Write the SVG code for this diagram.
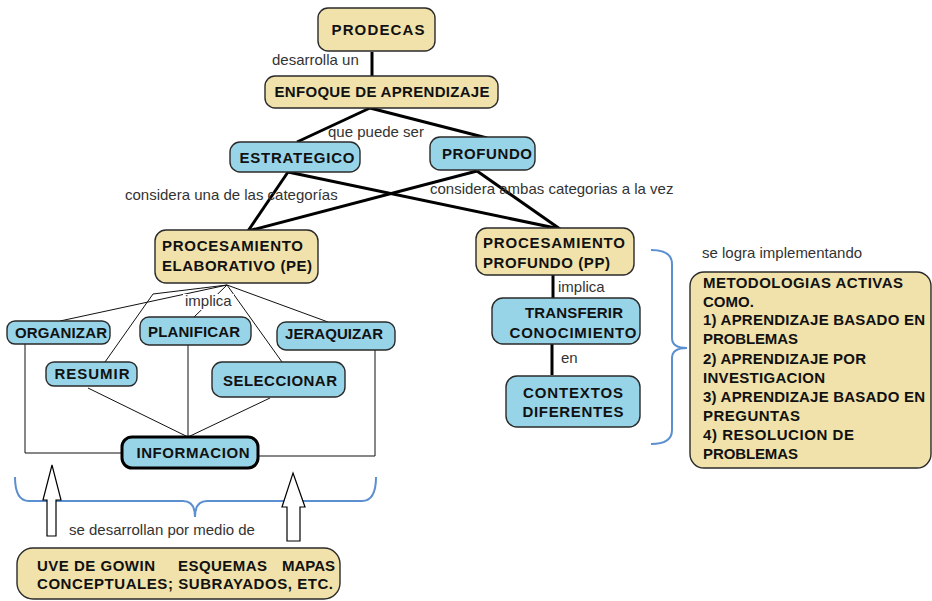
<svg xmlns="http://www.w3.org/2000/svg" width="932" height="601" viewBox="0 0 932 601">
<style>
.tan{fill:#F0E2AA;stroke:#2a2a2a;stroke-width:1.4}
.blue{fill:#98D4E8;stroke:#2a2a2a;stroke-width:1.4}
.bt{font-family:"Liberation Sans",Arial,sans-serif;font-weight:bold;font-size:15px;fill:#111}
.lb{font-family:"Liberation Sans",Arial,sans-serif;font-size:15px;fill:#333}
.thick{stroke:#000;stroke-width:3;fill:none}
.thin{stroke:#111;stroke-width:1;fill:none}
.brace{stroke:#5B8FD0;stroke-width:2;fill:none}
.hollow{fill:#fff;stroke:#000;stroke-width:1.2}
</style>
<rect width="932" height="601" fill="#fff"/>

<g id="connectors">
<line class="thick" x1="372" y1="52" x2="372" y2="77"/>
<line class="thick" x1="370" y1="108" x2="297" y2="142"/>
<line class="thick" x1="370" y1="108" x2="487" y2="138"/>
<line class="thick" x1="288" y1="172" x2="248" y2="231"/>
<line class="thick" x1="288" y1="172" x2="560" y2="229"/>
<line class="thick" x1="477" y1="171" x2="248" y2="231"/>
<line class="thick" x1="477" y1="171" x2="560" y2="229"/>
<line class="thick" x1="553" y1="275" x2="553" y2="298"/>
<line class="thick" x1="552" y1="344" x2="552" y2="375"/>
<line class="thin" x1="227" y1="285" x2="60" y2="321"/>
<polyline class="thin" points="227,285 153,294 105,362"/>
<line class="thin" x1="227" y1="285" x2="193" y2="318"/>
<line class="thin" x1="227" y1="285" x2="282" y2="362"/>
<line class="thin" x1="227" y1="285" x2="328" y2="322"/>
<polyline class="thin" points="25,344 25,453 122,453"/>
<polyline class="thin" points="375,350 375,456 258,456"/>
<line class="thin" x1="88" y1="388" x2="188" y2="437"/>
<line class="thin" x1="188" y1="345" x2="188" y2="437"/>
<line class="thin" x1="270" y1="398" x2="188" y2="437"/>
<path class="brace" d="M651,250 Q672,250 672,264 L672,338 Q672,348 687,348 Q672,348 672,358 L672,430 Q672,444 651,444"/>
<path class="brace" d="M15,477 Q15,501 29,501 L183,501 Q195,501 195,517 Q195,501 207,501 L362,501 Q376,501 376,477"/>
<polygon class="hollow" points="52,465 61,500 56,500 56,536 47,536 47,500 43,500"/>
<polygon class="hollow" points="293,473 305,507 300,507 300,541 287,541 287,507 282,507"/>
</g>

<g id="labels">
<text class="lb" x="272" y="65">desarrolla un</text>
<text class="lb" x="328" y="137">que puede ser</text>
<text class="lb" x="125" y="200">considera una de las categorías</text>
<text class="lb" x="430" y="194">considera ambas categorias a la vez</text>
<rect x="183" y="294" width="51" height="16" fill="#fff"/>
<text class="lb" x="185" y="306">implica</text>
<text class="lb" x="558" y="292">implica</text>
<text class="lb" x="561" y="363">en</text>
<text class="lb" x="702" y="258">se logra implementando</text>
<text class="lb" x="69" y="535">se desarrollan por medio de</text>
</g>

<g id="prodecas">
<rect class="tan" x="318" y="8" width="117" height="43" rx="10"/>
<text class="bt" x="378" y="35" text-anchor="middle" font-size="16" textLength="93">PRODECAS</text>
</g>
<g id="enfoque">
<rect class="tan" x="265" y="76" width="233" height="32" rx="10"/>
<text class="bt" x="382" y="97" text-anchor="middle" textLength="215">ENFOQUE DE APRENDIZAJE</text>
</g>
<g id="estrategico">
<rect class="blue" x="230" y="142" width="130" height="30" rx="10"/>
<text class="bt" x="297" y="163" text-anchor="middle" textLength="115">ESTRATEGICO</text>
</g>
<g id="profundo">
<rect class="blue" x="430" y="137" width="105" height="33" rx="10"/>
<text class="bt" x="487" y="159" text-anchor="middle" textLength="90">PROFUNDO</text>
</g>
<g id="pe">
<rect class="tan" x="155" y="230" width="163" height="53" rx="11"/>
<text class="bt" x="162" y="251" textLength="141">PROCESAMIENTO</text>
<text class="bt" x="162" y="271" textLength="150">ELABORATIVO (PE)</text>
</g>
<g id="pp">
<rect class="tan" x="476" y="228" width="158" height="47" rx="11"/>
<text class="bt" x="483" y="248" textLength="142">PROCESAMIENTO</text>
<text class="bt" x="483" y="268" textLength="127">PROFUNDO (PP)</text>
</g>
<g id="transferir">
<rect class="blue" x="492" y="298" width="148" height="46" rx="11"/>
<text class="bt" x="574" y="318" text-anchor="middle" textLength="98">TRANSFERIR</text>
<text class="bt" x="573" y="338" text-anchor="middle" textLength="127">CONOCIMIENTO</text>
</g>
<g id="contextos">
<rect class="blue" x="506" y="376" width="134" height="51" rx="11"/>
<text class="bt" x="573" y="398" text-anchor="middle" textLength="100">CONTEXTOS</text>
<text class="bt" x="573" y="417" text-anchor="middle" textLength="101">DIFERENTES</text>
</g>
<g id="organizar">
<rect class="blue" x="7" y="321" width="103" height="23" rx="8"/>
<text class="bt" x="61" y="338" text-anchor="middle" textLength="92">ORGANIZAR</text>
</g>
<g id="planificar">
<rect class="blue" x="140" y="317" width="111" height="28" rx="9"/>
<text class="bt" x="194" y="337" text-anchor="middle" textLength="92">PLANIFICAR</text>
</g>
<g id="jeraquizar">
<rect class="blue" x="277" y="322" width="118" height="28" rx="9"/>
<text class="bt" x="334" y="339" text-anchor="middle" textLength="98">JERAQUIZAR</text>
</g>
<g id="resumir">
<rect class="blue" x="46" y="362" width="91" height="24" rx="8"/>
<text class="bt" x="92" y="379" text-anchor="middle" textLength="75">RESUMIR</text>
</g>
<g id="seleccionar">
<rect class="blue" x="212" y="362" width="133" height="35" rx="10"/>
<text class="bt" x="280" y="386" text-anchor="middle" textLength="114">SELECCIONAR</text>
</g>
<g id="informacion">
<rect x="122" y="437" width="136" height="31" rx="10" fill="#98D4E8" stroke="#000" stroke-width="3"/>
<text class="bt" x="193" y="458" text-anchor="middle" textLength="113">INFORMACION</text>
</g>
<g id="metodologias">
<rect class="tan" x="690" y="272" width="241" height="196" rx="14"/>
<text class="bt" x="703" y="288" textLength="200">METODOLOGIAS ACTIVAS</text>
<text class="bt" x="703" y="307">COMO.</text>
<text class="bt" x="703" y="325" textLength="222">1) APRENDIZAJE BASADO EN</text>
<text class="bt" x="703" y="344" textLength="95">PROBLEMAS</text>
<text class="bt" x="703" y="364" textLength="163">2) APRENDIZAJE POR</text>
<text class="bt" x="703" y="383" textLength="122">INVESTIGACION</text>
<text class="bt" x="703" y="402" textLength="222">3) APRENDIZAJE BASADO EN</text>
<text class="bt" x="703" y="421" textLength="97">PREGUNTAS</text>
<text class="bt" x="703" y="440" textLength="151">4) RESOLUCION DE</text>
<text class="bt" x="703" y="459" textLength="95">PROBLEMAS</text>
</g>
<g id="uve">
<rect class="tan" x="17" y="548" width="323" height="51" rx="16"/>
<text class="bt"><tspan x="37" y="571" textLength="118">UVE DE GOWIN</tspan><tspan x="178" y="571" textLength="89">ESQUEMAS</tspan><tspan x="282" y="571" textLength="53">MAPAS</tspan></text>
<text class="bt" x="37" y="589" textLength="296">CONCEPTUALES; SUBRAYADOS, ETC.</text>
</g>
</svg>
